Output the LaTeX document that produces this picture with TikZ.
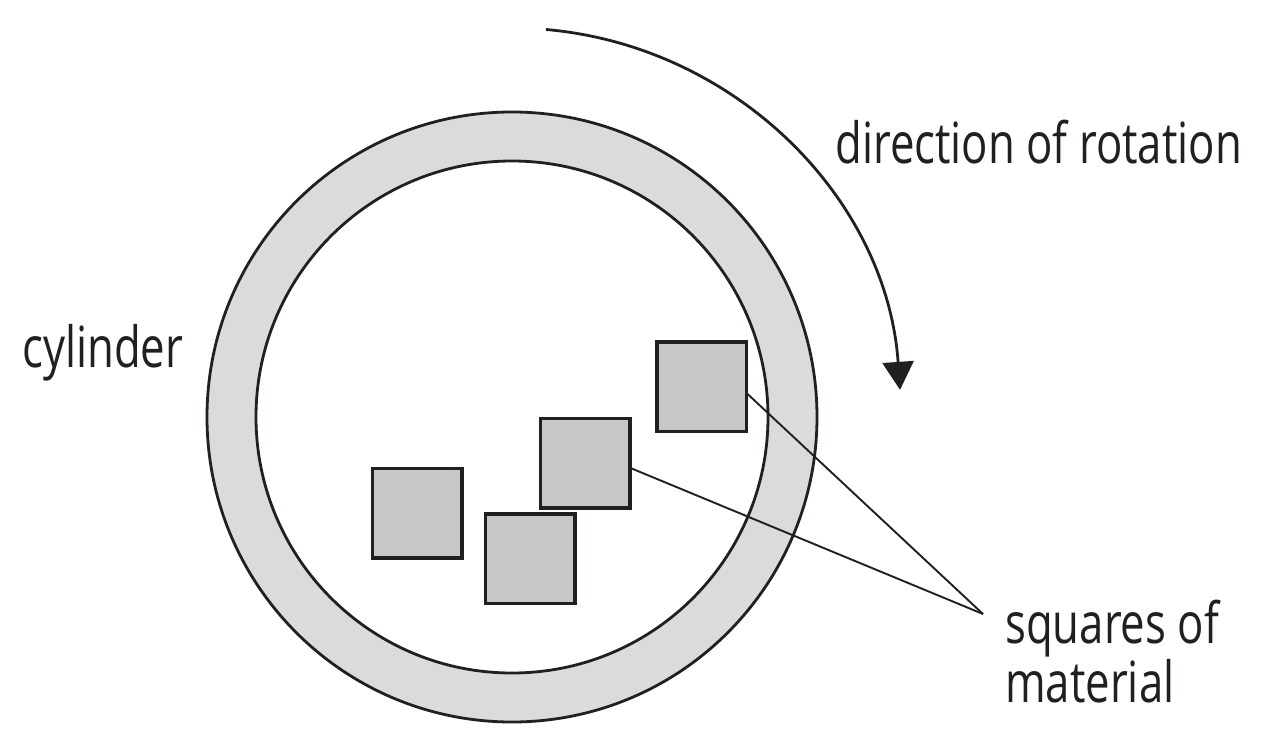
\documentclass[tikz,border=0pt]{standalone}
\usepackage{fontspec}
\setmainfont{Open Sans}[FakeStretch=0.77]
\usetikzlibrary{arrows.meta}
\definecolor{ink}{HTML}{231F20}
\definecolor{ringgray}{HTML}{DADBDD}
\definecolor{sqgray}{HTML}{C6C7C9}
\begin{document}
\begin{tikzpicture}[x=1bp,y=-1bp,
  ringline/.style={circle, draw=ink, line width=2.8bp, inner sep=0pt, outer sep=0pt},
  sqbox/.style={draw=ink, fill=sqgray, line width=3.5bp, minimum size=89.5bp, inner sep=0pt, outer sep=0pt},
  leader/.style={draw=ink, line width=1.9bp},
  rotarrow/.style={draw=ink, line width=2.8bp, -{Triangle[length=28bp,width=31bp]}},
  txt/.style={font=\fontsize{57}{59}\selectfont, text=ink, inner sep=0pt, anchor=base west}]
\useasboundingbox[fill=white] (0,0) rectangle (1271,746);
% cylinder
\node[ringline, fill=ringgray, minimum size=610bp] (outer) at (512,417) {};
\node[ringline, fill=white, minimum size=512bp] (inner) at (512,417) {};
% squares
\node[sqbox] (s1) at (701.5,386.5) {};
\node[sqbox] (s2) at (585,463) {};
\node[sqbox] (s3) at (417,513) {};
\node[sqbox] (s4) at (530,558.5) {};
% leader lines
\coordinate (tip) at (983,614);
\draw[leader] (s1.-8) -- (tip);
\draw[leader] (s2.-6) -- (tip);
% rotation arrow
\path (outer.center) ++(-85:389) coordinate (arcstart);
\draw[rotarrow] (arcstart) arc[start angle=-85, end angle=-4, radius=389];
% labels
\node[txt] (rot) at (835,163) {direction of rotation};
\node[txt] (cyl) at (22,367) {cylinder};
\node[txt] (sqa) at (1005,643) {squares of};
\node[txt] (sqb) at (1005,702) {material};
\end{tikzpicture}
\end{document}
